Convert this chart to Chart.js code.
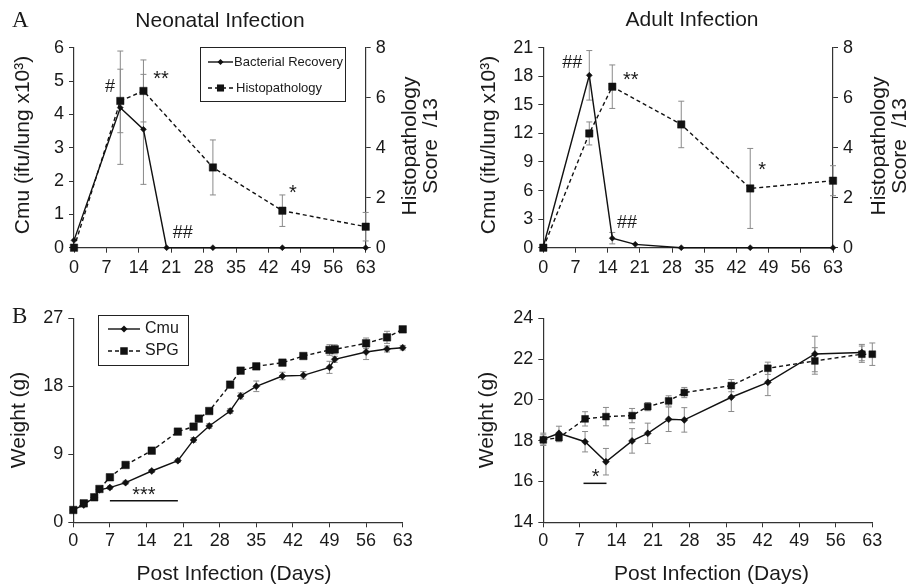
<!DOCTYPE html>
<html><head><meta charset="utf-8">
<script src="https://cdn.jsdelivr.net/npm/chart.js@4.4.1/dist/chart.umd.min.js"></script>
<style>
body{margin:0;background:#fff;width:908px;height:587px;position:relative;overflow:hidden}
canvas{position:absolute}
</style></head><body>
<canvas id="c1" width="454" height="290" style="left:0;top:0"></canvas>
<canvas id="c2" width="454" height="290" style="left:454px;top:0"></canvas>
<canvas id="c3" width="454" height="297" style="left:0;top:290px"></canvas>
<canvas id="c4" width="454" height="297" style="left:454px;top:290px"></canvas>
<script>
// ---------------- DATA ----------------
const NEO_BACT_DAYS = [0, 10, 15, 20, 30, 45, 63];
const NEO_BACT = [0.22, 4.2, 3.55, 0, 0, 0, 0];
const NEO_BACT_ERR = [0, 1.7, 1.65, 0, 0, 0, 0];
const NEO_HISTO_DAYS = [0, 10, 15, 30, 45, 63];
const NEO_HISTO = [0, 5.87, 6.27, 3.21, 1.48, 0.84];
const NEO_HISTO_ERR = [0, 1.27, 1.24, 1.1, 0.63, 0.57];

const ADULT_BACT_DAYS = [0, 10, 15, 20, 30, 45, 63];
const ADULT_BACT = [0.1, 18.1, 1.0, 0.35, 0, 0, 0];
const ADULT_BACT_ERR = [0, 2.6, 0.6, 0, 0, 0, 0];
const ADULT_HISTO_DAYS = [0, 10, 15, 30, 45, 63];
const ADULT_HISTO = [0, 4.57, 6.44, 4.93, 2.37, 2.68];
const ADULT_HISTO_ERR = [0, 0.46, 0.87, 0.93, 1.6, 0.6];

const NEO_CMU_DAYS = [0, 2, 4, 5, 7, 10, 15, 20, 23, 26, 30, 32, 35, 40, 44, 49, 50, 56, 60, 63];
const NEO_CMU_W = [1.63, 2.29, 3.31, 4.3, 4.59, 5.25, 6.79, 8.16, 10.9, 12.75, 14.73, 16.72, 18.0, 19.36, 19.45, 20.51, 21.57, 22.54, 22.94, 23.11];
const NEO_CMU_ERR = [0.2, 0.2, 0.2, 0.2, 0.2, 0.2, 0.2, 0.2, 0.3, 0.3, 0.3, 0.4, 0.7, 0.5, 0.5, 0.8, 0.4, 1.0, 0.4, 0.3];
const NEO_SPG_DAYS = [0, 2, 4, 5, 7, 10, 15, 20, 23, 24, 26, 30, 32, 35, 40, 44, 49, 50, 56, 60, 63];
const NEO_SPG_W = [1.63, 2.51, 3.31, 4.41, 5.96, 7.59, 9.48, 12.0, 12.66, 13.72, 14.73, 18.22, 20.07, 20.64, 21.13, 22.01, 22.81, 22.89, 23.69, 24.48, 25.54];
const NEO_SPG_ERR = [0.2, 0.2, 0.2, 0.2, 0.2, 0.2, 0.2, 0.2, 0.2, 0.2, 0.2, 0.3, 0.3, 0.3, 0.3, 0.3, 0.7, 0.6, 0.7, 0.8, 0.3];

const AD_CMU_DAYS = [0, 3, 8, 12, 17, 20, 24, 27, 36, 43, 52, 61];
const AD_CMU_W = [18.07, 18.36, 17.95, 16.97, 17.99, 18.36, 19.05, 19.02, 20.13, 20.86, 22.25, 22.32];
const AD_CMU_ERR = [0.3, 0.35, 0.5, 0.65, 0.6, 0.5, 0.6, 0.6, 0.7, 0.65, 0.87, 0.4];
const AD_SPG_DAYS = [0, 3, 8, 12, 17, 20, 24, 27, 36, 43, 52, 61, 63];
const AD_SPG_W = [18.04, 18.15, 19.07, 19.18, 19.23, 19.67, 19.95, 20.36, 20.7, 21.55, 21.91, 22.24, 22.24];
const AD_SPG_ERR = [0.25, 0.2, 0.35, 0.45, 0.35, 0.2, 0.25, 0.25, 0.3, 0.3, 0.65, 0.4, 0.55];

// ---------------- HELPERS ----------------
const FONT = "'Liberation Sans', Arial, Helvetica, sans-serif";
const SERIF = "'Liberation Serif', 'Times New Roman', serif";
Chart.defaults.font.family = FONT;
Chart.defaults.color = '#1a1a1a';
Chart.defaults.animation = false;

function pts(xs, ys) { return xs.map((x, i) => ({ x: x, y: ys[i] })); }

function axis(o) {
  return {
    type: 'linear', position: o.pos, min: o.min, max: o.max,
    ticks: { stepSize: o.step, font: { size: 18, family: FONT }, color: '#1a1a1a', padding: o.pad, autoSkip: false, maxRotation: 0 },
    grid: { drawOnChartArea: false, drawTicks: true, tickLength: 5, color: '#333', lineWidth: 1 },
    border: { display: true, color: '#333', width: 1.2 },
    afterFit(s) { if (o.w !== undefined) s.width = o.w; if (o.h !== undefined) s.height = o.h; }
  };
}

function ds(label, xs, ys, err, style, opt) {
  return {
    label: label, data: pts(xs, ys), err: err, yAxisID: opt.yAxis || 'y',
    borderColor: '#111', backgroundColor: '#111', borderWidth: opt.lw || 1.4,
    borderDash: style === 'rect' ? [4, 3] : [],
    pointStyle: style, pointRadius: opt.r, pointBackgroundColor: '#111', pointBorderColor: '#111',
    pointBorderWidth: 0.5, tension: 0, clip: false, fill: false
  };
}

function marker(ctx, style, x, y, r) {
  ctx.save();
  ctx.fillStyle = '#111';
  ctx.beginPath();
  if (style === 'rect') {
    const s = Math.SQRT1_2 * r;
    ctx.rect(x - s, y - s, 2 * s, 2 * s);
  } else {
    ctx.moveTo(x, y - r); ctx.lineTo(x + r, y); ctx.lineTo(x, y + r); ctx.lineTo(x - r, y); ctx.closePath();
  }
  ctx.fill();
  ctx.restore();
}

function decor(cfg) {
  return {
    id: 'decor',
    beforeDatasetsDraw(chart) {
      const ctx = chart.ctx;
      ctx.save();
      ctx.strokeStyle = '#8a8a8a';
      ctx.lineWidth = 1;
      chart.data.datasets.forEach((d, i) => {
        if (!d.err) return;
        const meta = chart.getDatasetMeta(i);
        const ys = chart.scales[meta.yAxisID];
        meta.data.forEach((p, j) => {
          const e = d.err[j];
          if (!e) return;
          const v = d.data[j].y;
          const y1 = ys.getPixelForValue(v + e), y2 = ys.getPixelForValue(v - e);
          ctx.beginPath();
          ctx.moveTo(p.x, y1); ctx.lineTo(p.x, y2);
          ctx.moveTo(p.x - 3, y1); ctx.lineTo(p.x + 3, y1);
          ctx.moveTo(p.x - 3, y2); ctx.lineTo(p.x + 3, y2);
          ctx.stroke();
        });
      });
      ctx.restore();
    },
    afterDraw(chart) {
      const ctx = chart.ctx;
      const xs = chart.scales.x;
      ctx.save();
      ctx.fillStyle = '#1a1a1a';
      (cfg.texts || []).forEach(t => {
        ctx.save();
        ctx.font = (t.size || 21) + 'px ' + (t.serif ? SERIF : FONT);
        ctx.textAlign = t.align || 'center';
        ctx.textBaseline = t.base || 'middle';
        ctx.translate(t.x, t.y);
        if (t.rot) ctx.rotate(t.rot);
        ctx.fillText(t.t, 0, 0);
        ctx.restore();
      });
      (cfg.notes || []).forEach(n => {
        const ys = chart.scales[n.axis || 'y'];
        ctx.font = (n.size || 18) + 'px ' + FONT;
        ctx.textAlign = 'center';
        ctx.textBaseline = 'middle';
        ctx.fillText(n.t, xs.getPixelForValue(n.xv), ys.getPixelForValue(n.yv));
      });
      (cfg.lines || []).forEach(l => {
        const ys = chart.scales[l.axis || 'y'];
        const y = ys.getPixelForValue(l.yv);
        ctx.strokeStyle = '#111'; ctx.lineWidth = 1.5;
        ctx.beginPath();
        ctx.moveTo(xs.getPixelForValue(l.x1), y); ctx.lineTo(xs.getPixelForValue(l.x2), y);
        ctx.stroke();
      });
      const lg = cfg.legend;
      if (lg) {
        ctx.strokeStyle = '#222'; ctx.lineWidth = 1;
        ctx.strokeRect(lg.box[0] + 0.5, lg.box[1] + 0.5, lg.box[2] - lg.box[0], lg.box[3] - lg.box[1]);
        lg.items.forEach(it => {
          ctx.save();
          ctx.strokeStyle = '#111'; ctx.lineWidth = 1.4;
          ctx.setLineDash(it.style === 'rect' ? [4, 3] : []);
          ctx.beginPath(); ctx.moveTo(it.x1, it.y); ctx.lineTo(it.x2, it.y); ctx.stroke();
          ctx.restore();
          marker(ctx, it.style, (it.x1 + it.x2) / 2, it.y, it.r);
          ctx.font = lg.size + 'px ' + FONT;
          ctx.textAlign = 'left'; ctx.textBaseline = 'middle';
          ctx.fillStyle = '#1a1a1a';
          ctx.fillText(it.text, it.tx, it.y);
        });
      }
      ctx.restore();
    }
  };
}

const R90 = -Math.PI / 2;

// ---------------- PANEL A: Neonatal ----------------
new Chart(document.getElementById('c1'), {
  type: 'line',
  data: { datasets: [
    ds('Bacterial Recovery', NEO_BACT_DAYS, NEO_BACT, NEO_BACT_ERR, 'rectRot', { r: 3 }),
    ds('Histopathology', NEO_HISTO_DAYS, NEO_HISTO, NEO_HISTO_ERR, 'rect', { r: 5.2, yAxis: 'y2' })
  ] },
  options: {
    responsive: false, animation: false,
    layout: { padding: { left: 0, right: 0, top: 47.7, bottom: 0 } },
    plugins: { legend: { display: false }, tooltip: { enabled: false } },
    scales: {
      x: axis({ pos: 'bottom', min: 0, max: 63, step: 7, pad: 5, h: 42.3 }),
      y: axis({ pos: 'left', min: 0, max: 6, step: 1, pad: 5, w: 74 }),
      y2: axis({ pos: 'right', min: 0, max: 8, step: 2, pad: 5, w: 88.3 })
    }
  },
  plugins: [decor({
    texts: [
      { t: 'A', x: 12, y: 27, size: 23, serif: true, align: 'left', base: 'alphabetic' },
      { t: 'Neonatal Infection', x: 220, y: 27, size: 21, base: 'alphabetic' },
      { t: 'Cmu (ifu/lung x10\u00B3)', x: 23, y: 145, size: 21, rot: R90 },
      { t: 'Histopathology', x: 410, y: 146, size: 21, rot: R90 },
      { t: 'Score  /13', x: 431, y: 146, size: 21, rot: R90 }
    ],
    notes: [
      { t: '#', xv: 7.8, yv: 4.82 },
      { t: '**', xv: 18.8, yv: 5.05, size: 20 },
      { t: '##', xv: 23.5, yv: 0.44 },
      { t: '*', xv: 47.3, yv: 1.62, size: 20 }
    ],
    legend: { box: [200, 47, 345, 101], size: 13, items: [
      { y: 62, x1: 208, x2: 233, style: 'rectRot', r: 3, text: 'Bacterial Recovery', tx: 234 },
      { y: 88, x1: 208, x2: 233, style: 'rect', r: 5, text: 'Histopathology', tx: 236 }
    ] }
  })]
});

// ---------------- PANEL A: Adult ----------------
new Chart(document.getElementById('c2'), {
  type: 'line',
  data: { datasets: [
    ds('Bacterial Recovery', ADULT_BACT_DAYS, ADULT_BACT, ADULT_BACT_ERR, 'rectRot', { r: 3 }),
    ds('Histopathology', ADULT_HISTO_DAYS, ADULT_HISTO, ADULT_HISTO_ERR, 'rect', { r: 5.2, yAxis: 'y2' })
  ] },
  options: {
    responsive: false, animation: false,
    layout: { padding: { left: 0, right: 0, top: 47.7, bottom: 0 } },
    plugins: { legend: { display: false }, tooltip: { enabled: false } },
    scales: {
      x: axis({ pos: 'bottom', min: 0, max: 63, step: 7, pad: 5, h: 42.3 }),
      y: axis({ pos: 'left', min: 0, max: 21, step: 3, pad: 5, w: 89.3 }),
      y2: axis({ pos: 'right', min: 0, max: 8, step: 2, pad: 5, w: 75 })
    }
  },
  plugins: [decor({
    texts: [
      { t: 'Adult Infection', x: 238, y: 26, size: 21, base: 'alphabetic' },
      { t: 'Cmu (ifu/lung x10\u00B3)', x: 35, y: 145, size: 21, rot: R90 },
      { t: 'Histopathology', x: 425, y: 146, size: 21, rot: R90 },
      { t: 'Score  /13', x: 446, y: 146, size: 21, rot: R90 }
    ],
    notes: [
      { t: '##', xv: 6.3, yv: 19.4 },
      { t: '**', xv: 19.0, yv: 17.6, size: 20 },
      { t: '##', xv: 18.2, yv: 2.6 },
      { t: '*', xv: 47.6, yv: 8.1, size: 20 }
    ]
  })]
});

// ---------------- PANEL B: Neonatal weight ----------------
new Chart(document.getElementById('c3'), {
  type: 'line',
  data: { datasets: [
    ds('Cmu', NEO_CMU_DAYS, NEO_CMU_W, NEO_CMU_ERR, 'rectRot', { r: 3.5 }),
    ds('SPG', NEO_SPG_DAYS, NEO_SPG_W, NEO_SPG_ERR, 'rect', { r: 5.3 })
  ] },
  options: {
    responsive: false, animation: false,
    layout: { padding: { left: 0, right: 51.3, top: 28.3, bottom: 0 } },
    plugins: { legend: { display: false }, tooltip: { enabled: false } },
    scales: {
      x: axis({ pos: 'bottom', min: 0, max: 63, step: 7, pad: 3, h: 64.7 }),
      y: axis({ pos: 'left', min: 0, max: 27, step: 9, pad: 5, w: 73.3 })
    }
  },
  plugins: [decor({
    texts: [
      { t: 'B', x: 12, y: 33, size: 23, serif: true, align: 'left', base: 'alphabetic' },
      { t: 'Weight (g)', x: 19, y: 130, size: 21, rot: R90 },
      { t: 'Post Infection (Days)', x: 234, y: 284, size: 21 }
    ],
    notes: [{ t: '***', xv: 13.5, yv: 3.55, size: 20 }],
    lines: [{ x1: 7, x2: 20, yv: 2.86 }],
    legend: { box: [98, 25, 188, 75], size: 16, items: [
      { y: 39, x1: 108, x2: 140, style: 'rectRot', r: 3.5, text: 'Cmu', tx: 145 },
      { y: 61, x1: 108, x2: 140, style: 'rect', r: 5.3, text: 'SPG', tx: 145 }
    ] }
  })]
});

// ---------------- PANEL B: Adult weight ----------------
new Chart(document.getElementById('c4'), {
  type: 'line',
  data: { datasets: [
    ds('Cmu', AD_CMU_DAYS, AD_CMU_W, AD_CMU_ERR, 'rectRot', { r: 3.5 }),
    ds('SPG', AD_SPG_DAYS, AD_SPG_W, AD_SPG_ERR, 'rect', { r: 4.8 })
  ] },
  options: {
    responsive: false, animation: false,
    layout: { padding: { left: 0, right: 35.7, top: 28.3, bottom: 0 } },
    plugins: { legend: { display: false }, tooltip: { enabled: false } },
    scales: {
      x: axis({ pos: 'bottom', min: 0, max: 63, step: 7, pad: 3, h: 64.7 }),
      y: axis({ pos: 'left', min: 14, max: 24, step: 2, pad: 5, w: 89.3 })
    }
  },
  plugins: [decor({
    texts: [
      { t: 'Weight (g)', x: 33, y: 130, size: 21, rot: R90 },
      { t: 'Post Infection (Days)', x: 257.5, y: 284, size: 21 }
    ],
    notes: [{ t: '*', xv: 10.0, yv: 16.2, size: 20 }],
    lines: [{ x1: 7.7, x2: 12.1, yv: 15.91 }]
  })]
});
</script>
</body></html>
